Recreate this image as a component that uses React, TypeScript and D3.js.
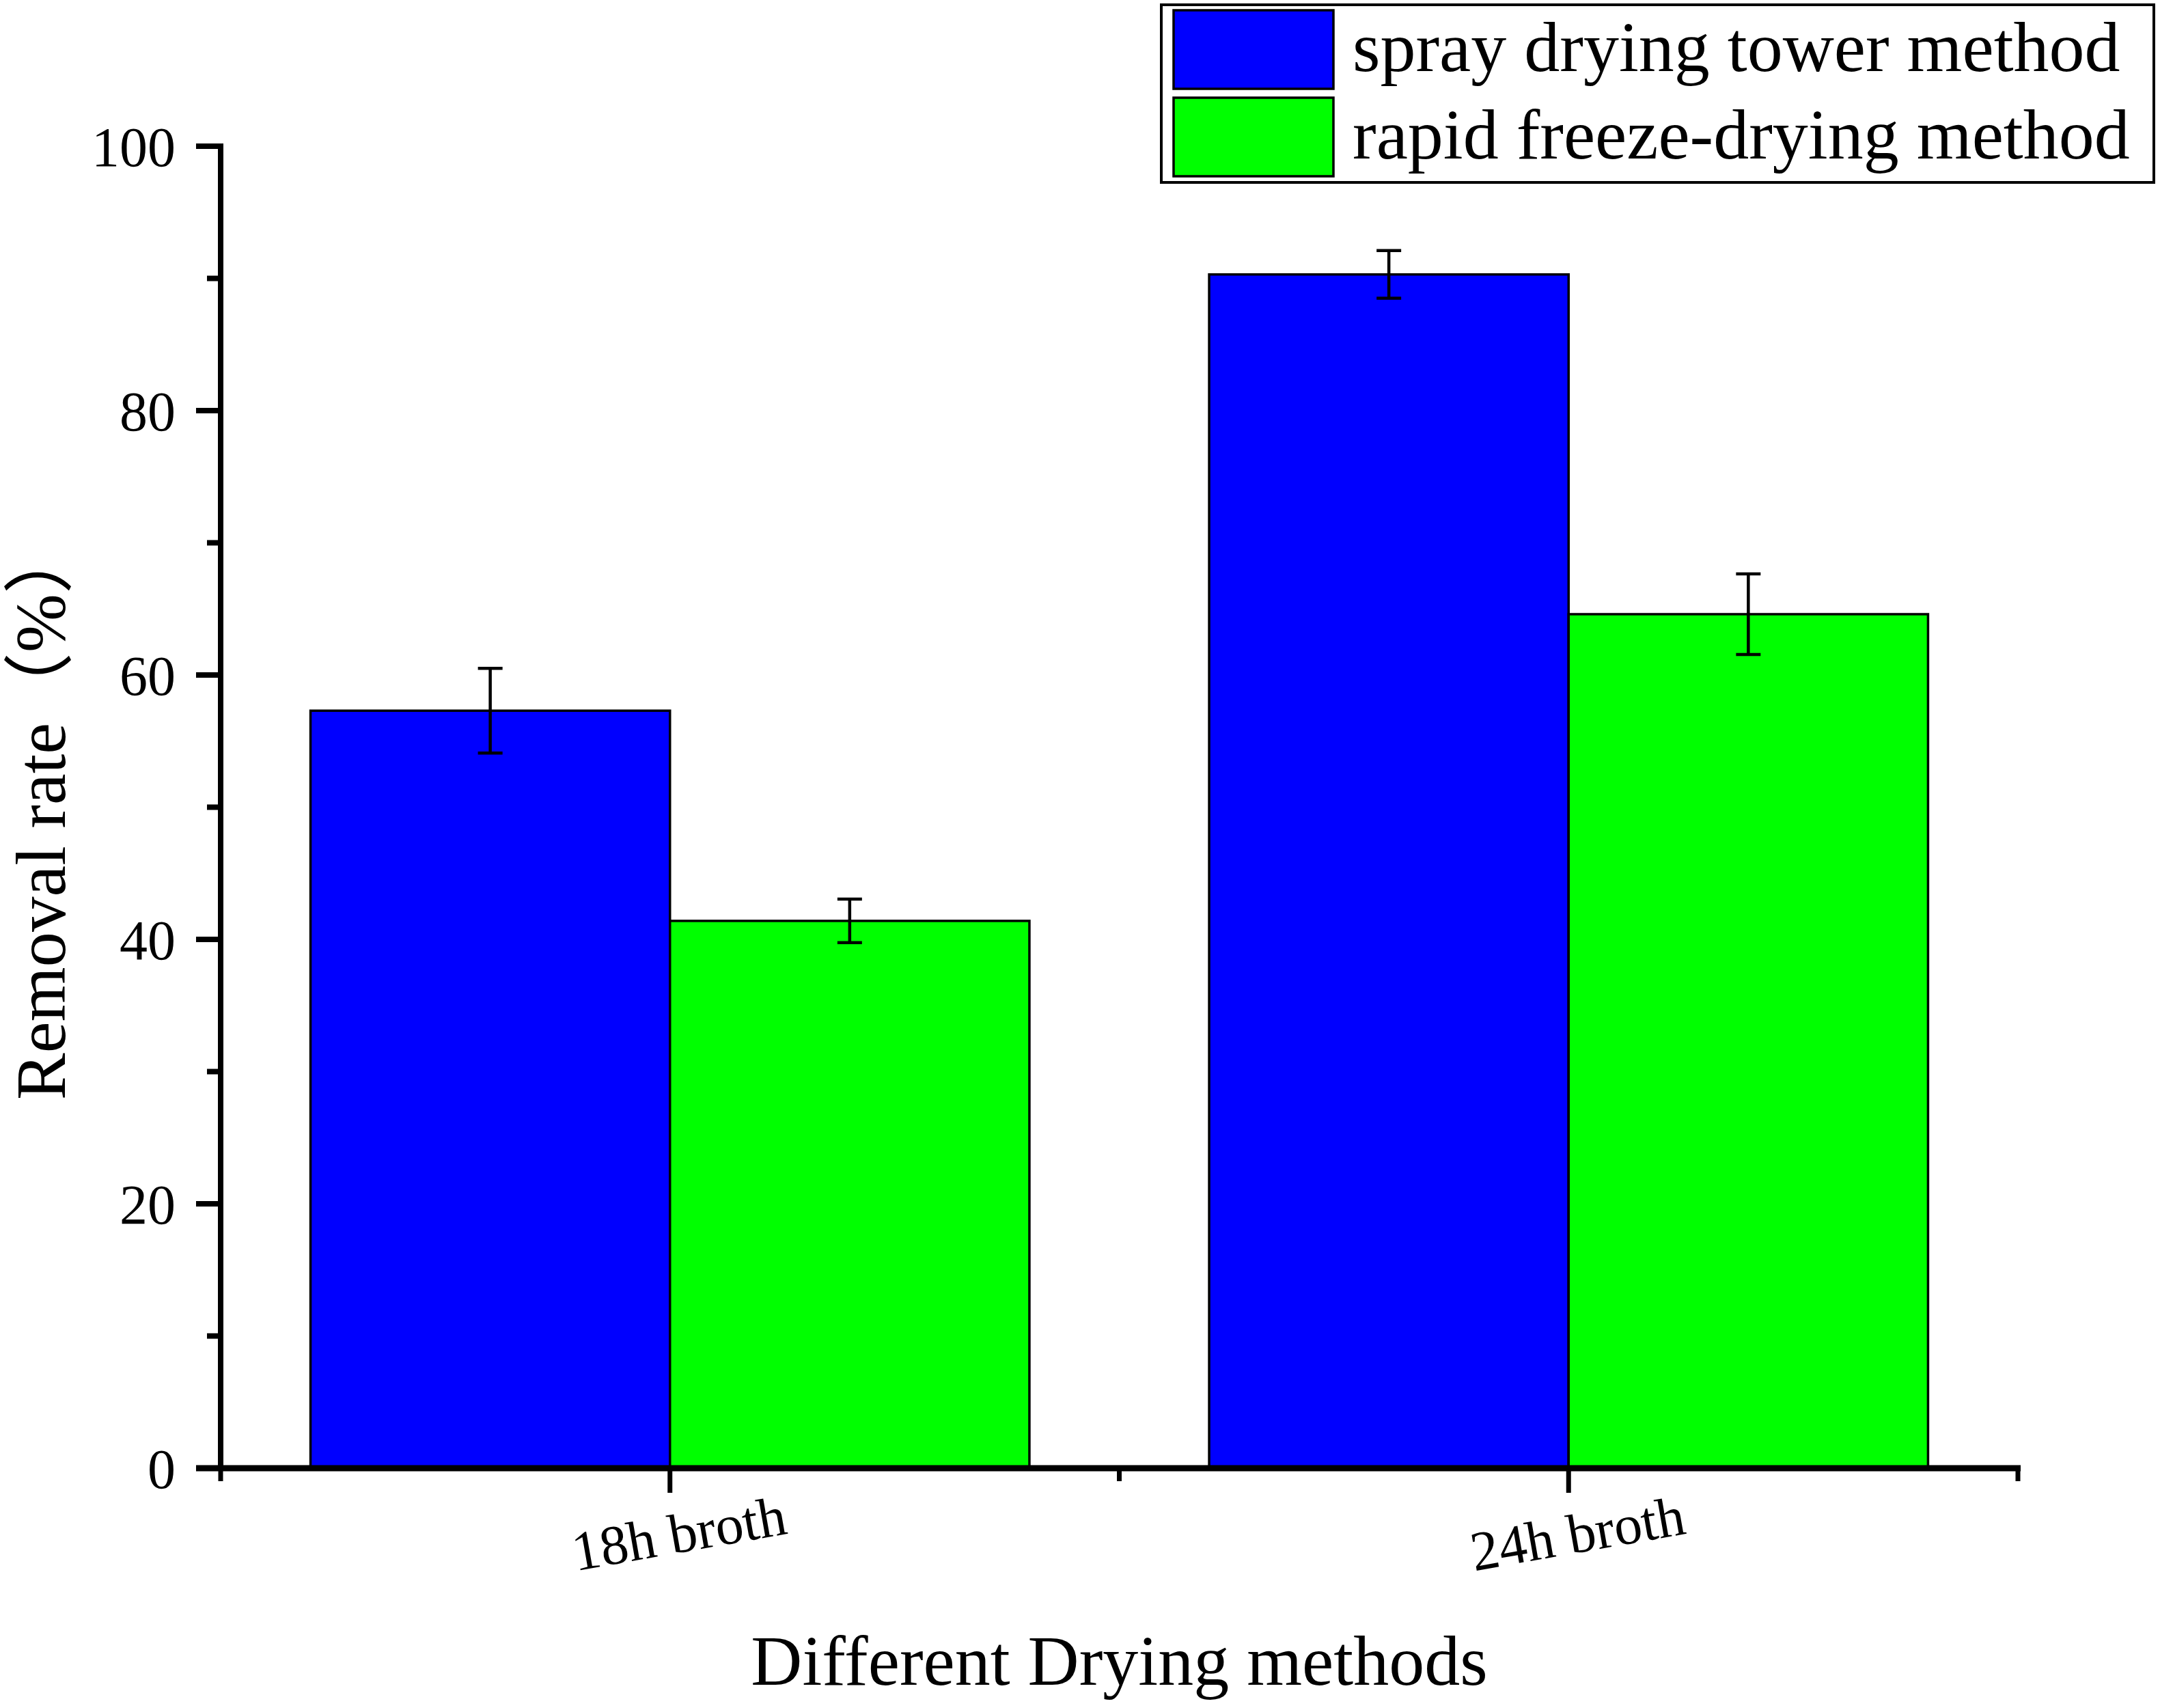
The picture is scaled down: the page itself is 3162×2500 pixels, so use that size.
import React from "react";
import * as d3 from "d3";

// chart values
const categories = ["18h broth", "24h broth"];
const seriesNames = ["spray drying tower method", "rapid freeze-drying method"];
const seriesColors = ["#0000ff", "#00ff00"];
const sprayValues = [57.3, 90.3];
const sprayErrors = [3.2, 1.8];
const freezeValues = [41.4, 64.6];
const freezeErrors = [1.65, 3.05];
const yDomain = [0, 100];

const width = 3162;
const height = 2500;
const margin = { left: 323, right: 208, top: 214, bottom: 351 };
const font = "'Liberation Serif', 'Times New Roman', 'Noto Sans CJK SC', serif";

const App: React.FC = () => {
  const plotLeft = margin.left;
  const plotRight = width - margin.right;
  const plotTop = margin.top;
  const plotBottom = height - margin.bottom;

  const x0 = d3
    .scaleBand<string>()
    .domain(categories)
    .range([plotLeft, plotRight])
    .paddingInner(0.2)
    .paddingOuter(0.1);
  const x1 = d3
    .scaleBand<string>()
    .domain(seriesNames)
    .range([0, x0.bandwidth()]);
  const y = d3.scaleLinear().domain(yDomain).range([plotBottom, plotTop]);

  const series = [
    { name: seriesNames[0], color: seriesColors[0], values: sprayValues, errors: sprayErrors },
    { name: seriesNames[1], color: seriesColors[1], values: freezeValues, errors: freezeErrors },
  ];

  const yTicks = y.ticks(10);
  const boundaries = d3.range(categories.length + 1).map((i) => plotLeft + i * x0.step());

  return (
    <svg
      width={width}
      height={height}
      viewBox={`0 0 ${width} ${height}`}
      style={{ position: "absolute", left: 0, top: 0, background: "#fff" }}
      fontFamily={font}
    >
      <rect x={0} y={0} width={width} height={height} fill="#fff" />

      {/* bars */}
      <g>
        {series.map((s) =>
          categories.map((c, i) => (
            <rect
              key={s.name + c}
              x={(x0(c) ?? 0) + (x1(s.name) ?? 0)}
              y={y(s.values[i])}
              width={x1.bandwidth()}
              height={y(0) - y(s.values[i])}
              fill={s.color}
              stroke="#000"
              strokeWidth={3.5}
            />
          )),
        )}
      </g>

      {/* error bars */}
      <g stroke="#000" strokeWidth={4.5}>
        {series.map((s) =>
          categories.map((c, i) => {
            const cx = (x0(c) ?? 0) + (x1(s.name) ?? 0) + x1.bandwidth() / 2;
            const hi = y(s.values[i] + s.errors[i]);
            const lo = y(s.values[i] - s.errors[i]);
            return (
              <g key={"err" + s.name + c}>
                <line x1={cx} x2={cx} y1={hi} y2={lo} />
                <line x1={cx - 18} x2={cx + 18} y1={hi} y2={hi} />
                <line x1={cx - 18} x2={cx + 18} y1={lo} y2={lo} />
              </g>
            );
          }),
        )}
      </g>

      {/* y axis */}
      <g>
        <line x1={plotLeft} x2={plotLeft} y1={plotBottom} y2={plotTop - 4} stroke="#000" strokeWidth={8} />
        {yTicks.map((t) => {
          const major = t % 20 === 0;
          return (
            <g key={"y" + t}>
              <line
                x1={plotLeft - (major ? 36 : 20)}
                x2={plotLeft}
                y1={y(t)}
                y2={y(t)}
                stroke="#000"
                strokeWidth={8}
              />
              {major && (
                <text x={257} y={y(t)} dy="0.35em" textAnchor="end" fontSize={82} fill="#000">
                  {t}
                </text>
              )}
            </g>
          );
        })}
        <text
          transform={`translate(95,${1610}) rotate(-90)`}
          textAnchor="start"
          fontSize={103}
          fill="#000"
        >
          Removal rate（%）
        </text>
      </g>

      {/* x axis */}
      <g>
        <line x1={plotLeft - 36} x2={plotRight + 4} y1={plotBottom} y2={plotBottom} stroke="#000" strokeWidth={9} />
        {boundaries.map((bx, i) => (
          <line key={"xb" + i} x1={bx} x2={bx} y1={plotBottom} y2={plotBottom + 19} stroke="#000" strokeWidth={7} />
        ))}
        {categories.map((c) => {
          const cx = (x0(c) ?? 0) + x0.bandwidth() / 2;
          return (
            <g key={"x" + c}>
              <line x1={cx} x2={cx} y1={plotBottom} y2={plotBottom + 36} stroke="#000" strokeWidth={7} />
              <text
                transform={`translate(${cx + 18},${plotBottom + 123}) rotate(-10)`}
                textAnchor="middle"
                fontSize={82}
                fill="#000"
              >
                {c}
              </text>
            </g>
          );
        })}
        <text x={(plotLeft + plotRight) / 2} y={2466} textAnchor="middle" fontSize={104} fill="#000">
          Different Drying methods
        </text>
      </g>

      {/* legend */}
      <g>
        <rect x={1700} y={7} width={1453} height={260} fill="#fff" stroke="#000" strokeWidth={4} />
        {series.map((s, i) => (
          <g key={"leg" + s.name} transform={`translate(0,${i * 128})`}>
            <rect x={1718} y={15} width={234} height={115} fill={s.color} stroke="#000" strokeWidth={3.5} />
            <text x={1980} y={104} fontSize={104} fill="#000">
              {s.name}
            </text>
          </g>
        ))}
      </g>
    </svg>
  );
};

export default App;
